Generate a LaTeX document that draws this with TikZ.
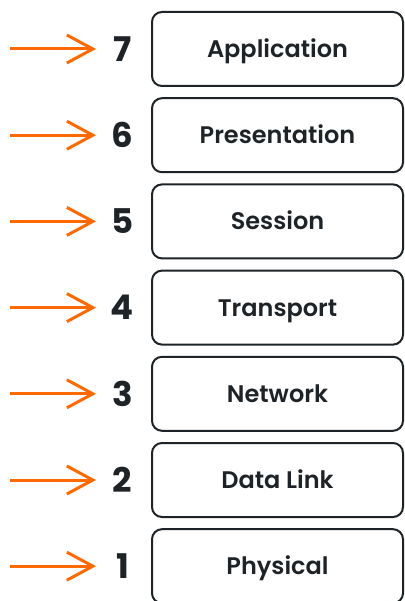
\documentclass[tikz,border=0pt]{standalone}
\usepackage{fontspec}
\setmainfont{Poppins}[BoldFont={Poppins SemiBold}]
\newfontfamily\numfont{Poppins}[UprightFont={* Bold}]
\usetikzlibrary{arrows.meta}
\definecolor{ink}{RGB}{30,35,39}
\definecolor{orng}{RGB}{255,106,0}
\begin{document}
\begin{tikzpicture}[x=1pt,y=-1pt,
  layerbox/.style={draw=ink,line width=2pt,rounded corners=10pt,minimum width=251pt,minimum height=74pt,inner sep=0pt,text=ink,text height=16.8pt,text depth=0pt,font=\fontsize{24}{28}\selectfont\bfseries},
  numlbl/.style={text=ink,inner sep=0pt,font=\fontsize{34}{38}\numfont},
  pointer/.style={draw=orng,line width=3pt,-{Straight Barb[length=26pt,width=28pt]}}]
\useasboundingbox (0,0) rectangle (404,601);
\foreach \n/\lbl [count=\i from 0] in {7/Application,6/Presentation,5/Session,4/Transport,3/Network,2/Data Link,1/Physical}{
  \pgfmathsetmacro{\yy}{49+86.2*\i}
  \node[layerbox] (b\n) at (277.5,\yy) {\lbl};
  \node[numlbl] (n\n) at (122.5,\yy) {\n};
  \coordinate (s\n) at (10,\yy);
  \coordinate (t\n) at (96,\yy);
  \draw[pointer] (s\n) -- (t\n);
}
\end{tikzpicture}
\end{document}
